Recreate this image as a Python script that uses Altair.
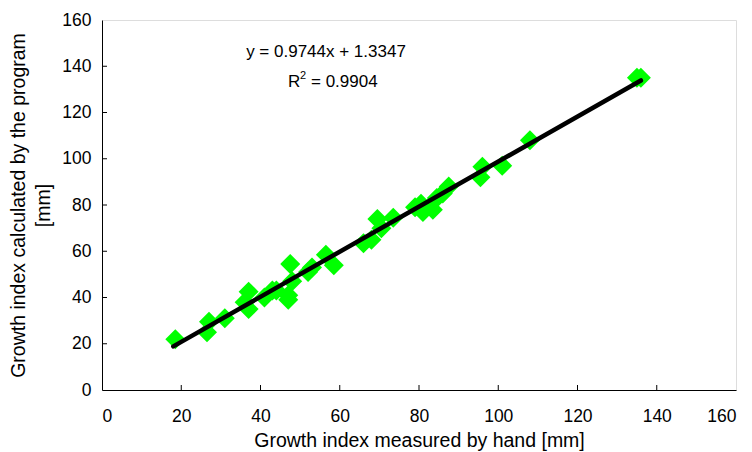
import altair as alt
import pandas as pd

# Data
hand = [18.5, 26.5, 27, 31, 36, 37, 37, 41, 43, 44, 47, 47, 47.5, 48, 52, 53, 56.5, 58.5, 66, 68, 69.5, 70.5, 73.5, 79, 80.5, 81, 83.5, 84.5, 86, 87.5, 95.5, 96, 101, 108, 135, 136]
program = [22, 25, 29.5, 31, 38, 35, 42.5, 40, 43, 43, 41, 39, 54.5, 47, 51, 53, 58.5, 54, 63.5, 65, 74, 70, 74.5, 79, 80.5, 77, 78, 83, 85, 88, 92, 96.5, 97, 108, 135, 135]
slope = 0.9744
intercept = 1.3347
fit_x = [18, 136]
x_ticks = [20, 40, 60, 80, 100, 120, 140]
y_ticks = [20, 40, 60, 80, 100, 120, 140]

pts = pd.DataFrame({"x": hand, "y": program})
fit = pd.DataFrame({"x": fit_x, "y": [slope * v + intercept for v in fit_x]})
xt = pd.DataFrame({"v": x_ticks})
yt = pd.DataFrame({"v": y_ticks})

W, H = 634, 370
LABEL_FONT = "Liberation Sans Narrow, Liberation Sans, Arial"
TITLE_FONT = "Liberation Sans, Arial"

xscale = alt.Scale(domain=[0, 160], nice=False)
yscale = alt.Scale(domain=[0, 160], nice=False)

xaxis = alt.Axis(
    values=[0, 20, 40, 60, 80, 100, 120, 140, 160],
    ticks=False, grid=False, domainColor="black", labelColor="black",
    labelFont=LABEL_FONT, labelFontSize=17.5, labelPadding=17,
    title="Growth index measured by hand [mm]", titleFont=TITLE_FONT,
    titleFontSize=19.5, titleFontWeight="normal", titleColor="black", titlePadding=7,
)
yaxis = alt.Axis(
    values=[0, 20, 40, 60, 80, 100, 120, 140, 160],
    ticks=False, grid=False, domainColor="black", labelColor="black",
    labelFont=LABEL_FONT, labelFontSize=17.5, labelPadding=11,
    title=["Growth index calculated by the program", "[mm]"], titleFont=TITLE_FONT,
    titleFontSize=19.5, titleFontWeight="normal", titleColor="black", titlePadding=8,
    titleLineHeight=25,
)

points = alt.Chart(pts).mark_point(
    shape="diamond", filled=True, color="#00FF00", size=400, opacity=1
).encode(x=alt.X("x:Q", scale=xscale, axis=xaxis), y=alt.Y("y:Q", scale=yscale, axis=yaxis))

line = alt.Chart(fit).mark_line(color="black", strokeWidth=4.5, strokeCap="round").encode(
    x=alt.X("x:Q", scale=xscale), y=alt.Y("y:Q", scale=yscale)
)

xtick = alt.Chart(xt).mark_rule(color="black", strokeWidth=1).encode(
    x=alt.X("v:Q", scale=xscale), y=alt.value(H), y2=alt.value(H - 5)
)
ytick = alt.Chart(yt).mark_rule(color="black", strokeWidth=1).encode(
    y=alt.Y("v:Q", scale=yscale), x=alt.value(0), x2=alt.value(5)
)

eq = alt.Chart(pd.DataFrame({"t": ["y = 0.9744x + 1.3347"]})).mark_text(
    font=TITLE_FONT, fontSize=17, color="black", align="center", baseline="middle"
).encode(text="t:N", x=alt.value(224), y=alt.value(32))

r_main = alt.Chart(pd.DataFrame({"t": ["R"]})).mark_text(
    font=TITLE_FONT, fontSize=17, color="black", align="left", baseline="middle"
).encode(text="t:N", x=alt.value(186), y=alt.value(62))
r_sup = alt.Chart(pd.DataFrame({"t": ["2"]})).mark_text(
    font=TITLE_FONT, fontSize=11, color="black", align="left", baseline="middle"
).encode(text="t:N", x=alt.value(198), y=alt.value(56))
r_val = alt.Chart(pd.DataFrame({"t": ["= 0.9904"]})).mark_text(
    font=TITLE_FONT, fontSize=17, color="black", align="left", baseline="middle"
).encode(text="t:N", x=alt.value(209), y=alt.value(62))

chart = alt.layer(points, line, xtick, ytick, eq, r_main, r_sup, r_val).properties(
    width=W, height=H,
    autosize=alt.AutoSizeParams(type="none"),
    padding={"left": 94, "top": 12, "right": 8, "bottom": 62},
).configure_view(stroke="black", strokeWidth=1).configure(background="white")

chart.save("out.html", embed_options={"renderer": "svg", "actions": False})
